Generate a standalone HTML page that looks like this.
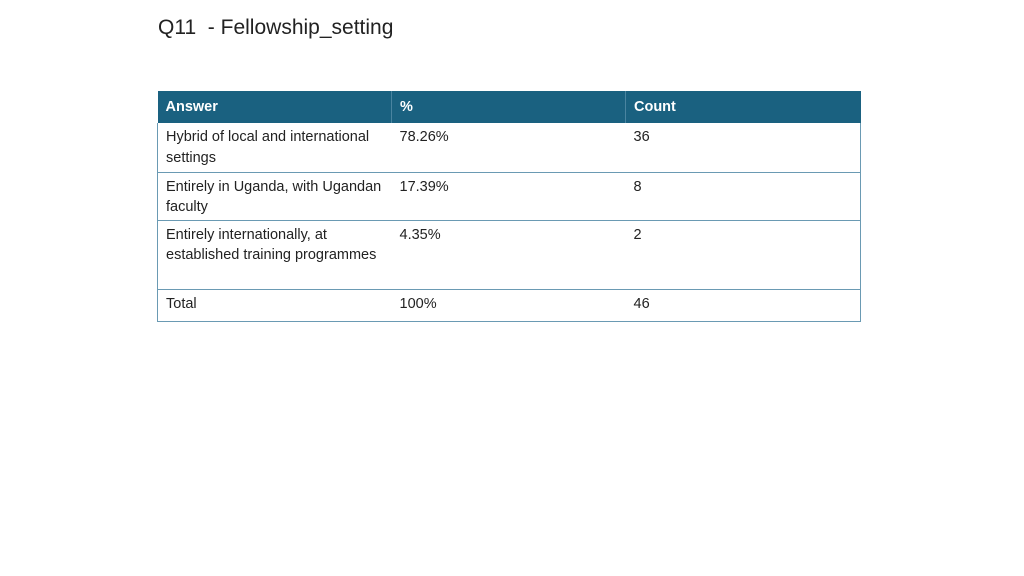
<!DOCTYPE html>
<html><head><meta charset="utf-8"><style>
body{margin:0;width:1024px;height:576px;background:#fff;font-family:"Liberation Sans",sans-serif;position:relative;overflow:hidden}
#title{position:absolute;left:158px;top:16px;font-size:21px;color:#222;white-space:pre}
table{position:absolute;left:157px;top:91px;border-collapse:collapse;width:703px;table-layout:fixed;font-size:14.5px;color:#222}
th{background:#1a6180;color:#fff;text-align:left;font-weight:bold;height:32px;padding:0 8px;border-right:1px solid #4a84a0}
td{vertical-align:top;padding:4px 8px 0 8px;line-height:20.5px;border-bottom:1.5px solid #6a9ab3}
tr td:first-child{border-left:1.5px solid #6a9ab3}
tr td:last-child{border-right:1.5px solid #6a9ab3}
</style></head><body>
<div id="title">Q11  - Fellowship_setting</div>
<table>
<colgroup><col style="width:234px"><col style="width:234px"><col style="width:235px"></colgroup>
<tr><th>Answer</th><th>%</th><th style="border-right:none">Count</th></tr>
<tr style="height:49px"><td>Hybrid of local and international settings</td><td>78.26%</td><td>36</td></tr>
<tr style="height:48px"><td>Entirely in Uganda, with Ugandan faculty</td><td>17.39%</td><td>8</td></tr>
<tr style="height:69px"><td>Entirely internationally, at established training programmes</td><td>4.35%</td><td>2</td></tr>
<tr style="height:32px"><td>Total</td><td>100%</td><td>46</td></tr>
</table>
</body></html>
